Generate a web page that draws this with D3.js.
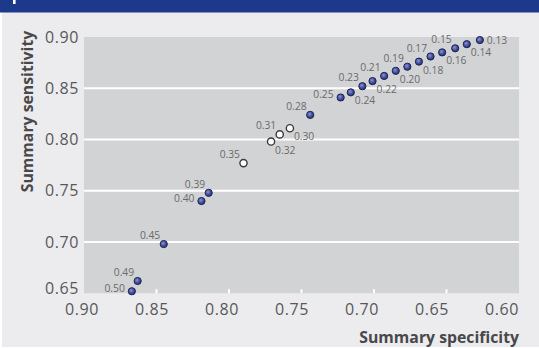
<!DOCTYPE html>
<html>
<head>
<meta charset="utf-8">
<script src="https://cdn.jsdelivr.net/npm/d3@7"></script>
<style>
  html, body { margin: 0; padding: 0; background: #ffffff; }
  svg { display: block; }
</style>
</head>
<body>
<svg id="chart" width="539" height="348"></svg>
<script>
// Summary ROC points for each threshold
const thresholds = ["0.13","0.14","0.15","0.16","0.17","0.18","0.19","0.20","0.21","0.22","0.23","0.24","0.25","0.28","0.30","0.31","0.32","0.35","0.39","0.40","0.45","0.49","0.50"];
const specificity = [0.627,0.636,0.644,0.653,0.661,0.669,0.677,0.685,0.693,0.701,0.708,0.716,0.723,0.744,0.758,0.765,0.771,0.790,0.814,0.819,0.845,0.863,0.867];
const sensitivity = [0.897,0.893,0.889,0.885,0.881,0.876,0.871,0.867,0.862,0.857,0.852,0.846,0.841,0.824,0.811,0.805,0.798,0.777,0.748,0.740,0.698,0.662,0.652];
// hollow markers
const hollow = ["0.30","0.31","0.32","0.35"];
// where each threshold label sits next to its point
const labelSide = ["r","br","al","br","al","br","al","br","al","br","al","br","l","al","br","al","br","al","al","l","al","al","l"];

const xTicks = [0.90,0.85,0.80,0.75,0.70,0.65,0.60];
const yTicks = [0.90,0.85,0.80,0.75,0.70,0.65];
const xTitle = "Summary specificity";
const yTitle = "Summary sensitivity";

const svg = d3.select("#chart");
const W = 539, H = 348;
const plot = { left: 84, right: 519, top: 37, bottom: 293.3 };

const x = d3.scaleLinear().domain([0.90, 0.60]).range([plot.left, plot.right]);
const y = d3.scaleLinear().domain([0.65, 0.90]).range([plot.bottom, plot.top]);
// the specificity tick labels run on a slightly tighter spacing than the panel
const xLabel = d3.scaleLinear().domain([0.90, 0.60]).range([81.5, 501.5]);

const font = "'Open Sans', 'Noto Sans', sans-serif";

// page background and header band
svg.append("rect").attr("x", 2).attr("y", 12).attr("width", W - 2).attr("height", H - 13).attr("fill", "#ececee");
svg.append("rect").attr("x", 0).attr("y", 0).attr("width", W).attr("height", 12.5).attr("fill", "#1c398b");
svg.append("rect").attr("x", 13).attr("y", 0).attr("width", 2.6).attr("height", 4).attr("fill", "#ffffff");

// plot panel
svg.append("rect")
  .attr("x", plot.left).attr("y", plot.top)
  .attr("width", plot.right - plot.left).attr("height", plot.bottom - plot.top)
  .attr("fill", "#d2d3d5");

// horizontal gridlines
svg.append("g").selectAll("line")
  .data(yTicks.filter(v => v > 0.65 && v < 0.90))
  .join("line")
  .attr("x1", plot.left).attr("x2", plot.right)
  .attr("y1", d => y(d)).attr("y2", d => y(d))
  .attr("stroke", "#ffffff").attr("stroke-width", 2);

// small inner ticks along the bottom edge
svg.append("g").selectAll("line")
  .data(xTicks.filter(v => v < 0.90 && v > 0.60))
  .join("line")
  .attr("x1", d => x(d)).attr("x2", d => x(d))
  .attr("y1", plot.bottom).attr("y2", plot.bottom - 4)
  .attr("stroke", "#ffffff").attr("stroke-width", 2);

// x axis labels
const xAxis = svg.append("g")
  .attr("transform", `translate(0,${plot.bottom})`)
  .call(d3.axisBottom(xLabel).tickValues(xTicks).tickFormat(d3.format(".2f")).tickSize(0).tickPadding(0));
xAxis.select(".domain").remove();
xAxis.selectAll("text")
  .attr("font-family", font).attr("font-size", 16).attr("fill", "#58585a")
  .attr("letter-spacing", "0.6px").attr("y", 21.4).attr("dy", 0);

// y axis labels
const yAxis = svg.append("g")
  .attr("transform", `translate(${plot.left},0)`)
  .call(d3.axisLeft(y).tickValues(yTicks).tickFormat(d3.format(".2f")).tickSize(0).tickPadding(5));
yAxis.select(".domain").remove();
yAxis.selectAll("text")
  .attr("font-family", font).attr("font-size", 16).attr("fill", "#58585a")
  .attr("letter-spacing", "0.6px");
// lift the lowest label clear of the specificity labels
yAxis.selectAll(".tick").filter(d => d === 0.65).select("text").attr("y", -5.3);

// axis titles
svg.append("text")
  .attr("x", plot.right).attr("y", 342.5)
  .attr("text-anchor", "end")
  .attr("font-family", font).attr("font-size", 15.8).attr("font-weight", "bold")
  .attr("fill", "#48484a")
  .text(xTitle);

svg.append("text")
  .attr("transform", `translate(33,${111.5}) rotate(-90)`)
  .attr("text-anchor", "middle")
  .attr("font-family", font).attr("font-size", 15.8).attr("font-weight", "bold")
  .attr("fill", "#48484a")
  .text(yTitle);

// marker shading
const defs = svg.append("defs");
const grad = defs.append("radialGradient").attr("id", "dotFill")
  .attr("cx", "40%").attr("cy", "38%").attr("r", "65%");
grad.append("stop").attr("offset", "0%").attr("stop-color", "#8a96d6");
grad.append("stop").attr("offset", "55%").attr("stop-color", "#4450a0");
grad.append("stop").attr("offset", "100%").attr("stop-color", "#2a3170");

const points = thresholds.map((t, i) => ({
  t, sp: specificity[i], se: sensitivity[i], side: labelSide[i], open: hollow.includes(t)
}));

// threshold labels
const place = {
  r:  { dx: 7,    dy: 0,    anchor: "start" },
  br: { dx: 4,    dy: 8.5,  anchor: "start" },
  al: { dx: -3.5, dy: -8.5, anchor: "end" },
  l:  { dx: -7,   dy: -2.7, anchor: "end" }
};
svg.append("g").selectAll("text")
  .data(points)
  .join("text")
  .attr("x", d => x(d.sp) + place[d.side].dx)
  .attr("y", d => y(d.se) + place[d.side].dy)
  .attr("dy", "0.35em")
  .attr("text-anchor", d => place[d.side].anchor)
  .attr("font-family", font).attr("font-size", 10.3)
  .attr("fill", "#6a6a6c")
  .text(d => d.t);

// points
svg.append("g").selectAll("circle")
  .data(points)
  .join("circle")
  .attr("cx", d => x(d.sp))
  .attr("cy", d => y(d.se))
  .attr("r", 3.6)
  .attr("fill", d => d.open ? "#ffffff" : "url(#dotFill)")
  .attr("stroke", d => d.open ? "#3a3a3a" : "#1e2350")
  .attr("stroke-width", d => d.open ? 1.4 : 1);
</script>
</body>
</html>
